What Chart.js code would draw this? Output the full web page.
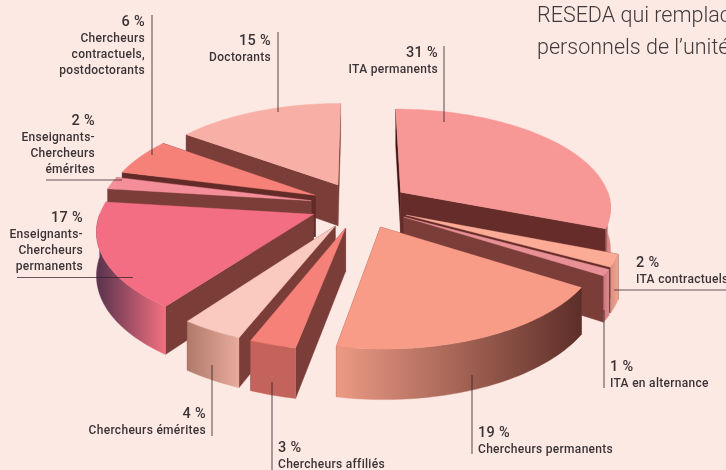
<!DOCTYPE html>
<html lang="fr">
<head>
    <meta charset="UTF-8">
    <title>Personnels de l'unité</title>
    <script src="https://cdn.jsdelivr.net/npm/chart.js"></script>
    <style>
        html, body { margin: 0; padding: 0; background: #fde9e4; }
        #wrap { width: 726px; height: 470px; position: relative; overflow: hidden; }
    </style>
</head>
<body>
    <div id="wrap"><canvas id="pie" width="726" height="470"></canvas></div>
    <script>
        // data, clockwise from the top
        const categories = ['ITA permanents', 'ITA contractuels', 'ITA en alternance', 'Chercheurs permanents', 'Chercheurs affiliés',
            'Chercheurs émérites', 'Enseignants-Chercheurs permanents', 'Enseignants-Chercheurs émérites',
            'Chercheurs contractuels, postdoctorants', 'Doctorants'];
        const shares = [31, 2, 1, 19, 3, 4, 17, 2, 6, 15];

        // slice colours
        const topColors = ['#f79896', '#fbab96', '#e98f96', '#f99c87', '#f58178', '#fac9bf', '#f36e82', '#f48f9a', '#f58178', '#f8b0a6'];
        const startWall = ['#3d1513', '#6b302c', '#7a3d38', '#7a3d38', '#7a3d38', '#7a3d38', '#7a3d38', '#7a3d38', '#632b28', '#7a3d38'];
        const endWall = ['#652c2a', '#652c2a', '#7a3d38', '#7a3d38', '#7a3d38', '#7a3d38', '#7a3d38', '#7a3d38', '#632b28', '#7a3d38'];
        const outerFrom = ['#d98a86', '#f0a592', '#e08a90', '#5d2e28', '#c4635c', '#e8ab9c', '#f2707f', '#f48f9a', '#f58178', '#f8b0a6'];
        const outerTo = ['#8d4a48', '#d9907f', '#c9757c', '#ec9a84', '#c4635c', '#b07a6a', '#5f3550', '#c06a78', '#c4635c', '#c98a80'];

        // label blocks: [index, side, x, y of the percent line, name lines]
        const labelBlocks = [
            [8, 'right', 145, 22, ['Chercheurs', 'contractuels,', 'postdoctorants']],
            [9, 'right', 271, 41, ['Doctorants']],
            [0, 'right', 438, 53, ['ITA permanents']],
            [7, 'right', 95, 121, ['Enseignants-', 'Chercheurs', 'émérites']],
            [6, 'right', 83, 218, ['Enseignants-', 'Chercheurs', 'permanents']],
            [5, 'right', 206, 414, ['Chercheurs émérites']],
            [4, 'left', 278, 448, ['Chercheurs affiliés']],
            [3, 'left', 478, 433, ['Chercheurs permanents']],
            [2, 'left', 610, 367, ['ITA en alternance']],
            [1, 'left', 636, 263, ['ITA contractuels']]
        ];
        // leader lines x1, y1, x2, y2
        const leaders = [
            [152, 15, 152, 155], [278, 32, 278, 112], [444, 46, 444, 122], [46, 180, 122, 180], [17, 277.5, 133, 277.5],
            [212, 365, 212, 436], [272, 382, 272, 470], [472, 375, 472, 454], [604, 310, 604, 388], [614, 290, 726, 290]
        ];
        const bodyLines = ['RESEDA qui remplace', 'personnels de l’unité'];

        const tiltY = 0.465;      // squash of the pie plane
        const perspective = 0.14; // front of the pie is closer
        const depth = 42;

        function project(arc, u, v) {
            const s = 1 / (1 - perspective * v / arc.outerRadius);
            return { x: arc.x + u * s, y: arc.y + v * tiltY * s, s: s };
        }

        // point on the slice outline at angle a, radius r, moved out by the slice offset
        function slicePoint(arc, a, r, drop) {
            const mid = (arc.startAngle + arc.endAngle) / 2;
            const off = arc.options.offset;
            const p = project(arc, Math.cos(a) * r + Math.cos(mid) * off, Math.sin(a) * r + Math.sin(mid) * off);
            return { x: p.x, y: p.y + (drop ? depth * p.s : 0) };
        }

        function polygon(ctx, pts, fill) {
            ctx.beginPath();
            pts.forEach((p, i) => i ? ctx.lineTo(p.x, p.y) : ctx.moveTo(p.x, p.y));
            ctx.closePath();
            ctx.fillStyle = fill;
            ctx.fill();
            ctx.strokeStyle = fill;
            ctx.lineWidth = 0.4;
            ctx.stroke();
        }

        function arcPoints(arc, from, to, drop) {
            const pts = [];
            const steps = Math.max(4, Math.ceil((to - from) * 40));
            for (let i = 0; i <= steps; i++) {
                pts.push(slicePoint(arc, from + (to - from) * i / steps, arc.outerRadius, drop));
            }
            return pts;
        }

        function drawSlice(ctx, arc, i) {
            const a0 = arc.startAngle, a1 = arc.endAngle, R = arc.outerRadius;
            const apex = slicePoint(arc, 0, 0, false), apexLow = slicePoint(arc, 0, 0, true);

            polygon(ctx, [apex, slicePoint(arc, a0, R, false), slicePoint(arc, a0, R, true), apexLow], startWall[i]);
            polygon(ctx, [apex, slicePoint(arc, a1, R, false), slicePoint(arc, a1, R, true), apexLow], endWall[i]);

            // outer rim, only the part facing the viewer
            const lo = Math.max(a0, 0), hi = Math.min(a1, Math.PI);
            if (lo < hi) {
                const upper = arcPoints(arc, lo, hi, false);
                const lower = arcPoints(arc, lo, hi, true).reverse();
                const g = ctx.createLinearGradient(upper[0].x, 0, upper[upper.length - 1].x, 0);
                g.addColorStop(0, outerFrom[i]);
                g.addColorStop(1, outerTo[i]);
                polygon(ctx, upper.concat(lower), g);
            }

            polygon(ctx, [apex].concat(arcPoints(arc, a0, a1, false)), arc.options.backgroundColor);
        }

        const tiltedPie = {
            id: 'tiltedPie',
            beforeDatasetsDraw(chart) {
                const ctx = chart.ctx;
                const arcs = chart.getDatasetMeta(0).data;
                const order = arcs.map((arc, i) => i).sort((a, b) => {
                    const m = k => Math.sin((arcs[k].startAngle + arcs[k].endAngle) / 2);
                    return m(a) - m(b);
                });
                ctx.save();
                order.forEach(i => drawSlice(ctx, arcs[i], i));
                ctx.restore();
                return false; // the flat arcs are replaced by the tilted ones
            },
            afterDraw(chart) {
                const ctx = chart.ctx;
                ctx.save();
                ctx.strokeStyle = 'rgba(45,35,40,0.75)';
                ctx.lineWidth = 1.1;
                leaders.forEach(l => {
                    ctx.beginPath();
                    ctx.moveTo(l[0], l[1]);
                    ctx.lineTo(l[2], l[3]);
                    ctx.stroke();
                });
                ctx.textBaseline = 'middle';
                ctx.fillStyle = '#3a3336';
                ctx.letterSpacing = '0.3px';
                labelBlocks.forEach(b => {
                    ctx.textAlign = b[1];
                    ctx.font = '500 14.5px Roboto';
                    ctx.fillText(shares[b[0]] + ' %', b[2], b[3]);
                    ctx.font = '500 12px Roboto';
                    b[4].forEach((line, k) => ctx.fillText(line, b[2], b[3] + 16.5 + k * 16.2));
                });
                ctx.letterSpacing = '0px';
                ctx.textAlign = 'left';
                ctx.font = '300 21.5px Roboto';
                ctx.fillStyle = '#403a3c';
                bodyLines.forEach((line, k) => ctx.fillText(line, 537, 17 + k * 32));
                ctx.restore();
            }
        };

        new Chart(document.getElementById('pie').getContext('2d'), {
            type: 'pie',
            data: {
                labels: categories,
                datasets: [{ data: shares, backgroundColor: topColors, borderWidth: 0, offset: 50 }]
            },
            options: {
                responsive: false,
                animation: false,
                radius: 211,
                layout: { padding: { right: 6, bottom: 60 } },
                plugins: { legend: { display: false }, tooltip: { enabled: false } }
            },
            plugins: [tiltedPie]
        });
    </script>
</body>
</html>
